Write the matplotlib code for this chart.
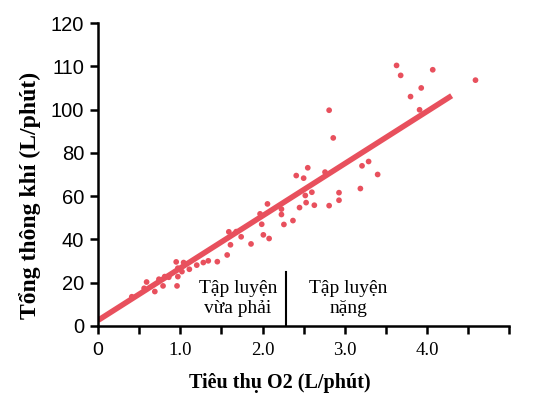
import matplotlib
matplotlib.use("Agg")
import matplotlib.pyplot as plt
import numpy as np

# O2 consumption (L/min) vs total ventilation (L/min)
o2 = [0.41, 0.56, 0.59, 0.69, 0.74, 0.81, 0.79, 0.86, 0.96, 0.97, 0.97, 0.95,
      1.02, 1.04, 1.11, 1.20, 1.28, 1.34, 1.45, 1.57, 1.61, 1.59, 1.68, 1.74,
      1.86, 2.01, 2.08, 1.99, 1.97, 2.06, 2.23, 2.23, 2.26, 2.37, 2.45, 2.41,
      2.50, 2.55, 2.52, 2.60, 2.53, 2.63, 2.76, 2.81, 2.93, 2.93, 3.19, 3.21,
      3.29, 3.40, 2.81, 2.86, 3.91, 3.80, 3.93, 3.63, 3.68, 4.07, 4.59]
vent = [13.5, 17.4, 20.3, 15.9, 21.6, 22.8, 18.5, 22.5, 18.5, 22.8, 26.7, 29.6,
        25.1, 29.3, 26.2, 28.1, 29.3, 30.1, 29.7, 32.8, 37.5, 43.5, 43.6, 41.2,
        37.9, 42.1, 40.4, 47.0, 51.8, 56.4, 54.0, 51.5, 46.9, 48.7, 54.7, 69.5,
        68.3, 73.1, 60.3, 61.8, 57.0, 55.8, 71.1, 55.6, 61.6, 58.1, 63.5, 74.0,
        76.0, 70.0, 99.7, 86.9, 99.9, 103.0, 105.0, 110.2, 107.9, 109.2, 106.8]

fit_x = [0.0, 4.035, 4.30]
fit_y = [2.6, 100.0, 103.2]

x_ticks = [0, 0.5, 1.0, 1.5, 2.0, 2.5, 3.0, 3.5, 4.0, 4.5, 5.0]
x_ticklabels = ["0", "", "1.0", "", "2.0", "", "3.0", "", "4.0", "", ""]
y_ticks = [0, 20, 40, 60, 80, 100, 110, 120]
y_ticklabels = ["0", "20", "40", "60", "80", "100", "110", "120"]

divider_x = 2.28
divider_top = 25
zone_labels = ["Tập luyện\nvừa phải", "Tập luyện\nnặng"]
zone_x = [1.70, 3.04]

RED = "#e8505d"

def fwd(v):
    v = np.asarray(v, dtype=float)
    return np.where(v <= 100, v, 100 + 2 * (v - 100))

def inv(u):
    u = np.asarray(u, dtype=float)
    return np.where(u <= 100, u, 100 + (u - 100) / 2)

fig = plt.figure(figsize=(5.36, 3.97), dpi=100)
ax = fig.add_axes([0.183, 0.179, 0.767, 0.763])
ax.set_yscale("function", functions=(fwd, inv))

ax.plot(fit_x, fit_y, color=RED, lw=4.0, solid_capstyle="butt", zorder=2)
ax.scatter(o2, vent, s=17, color=RED, edgecolors="none", zorder=3)
ax.plot([divider_x, divider_x], [0, divider_top], color="black", lw=1.5, zorder=1)

serif = "Liberation Serif"
sans = "Liberation Sans"
for tx, lab in zip(zone_x, zone_labels):
    ax.text(tx, 12.6, lab, ha="center", va="center", family=serif,
            fontsize=14, linespacing=1.2)

ax.set_xlim(0, 5.0)
ax.set_ylim(0, 120)
ax.set_xticks(x_ticks)
ax.set_xticklabels(x_ticklabels)
ax.set_yticks(y_ticks)
ax.set_yticklabels(y_ticklabels, family=sans, fontsize=14.5)
for i, t in enumerate(ax.get_xticklabels()):
    if x_ticklabels[i] == "0":
        t.set_family(sans)
        t.set_fontsize(14)
    else:
        t.set_family(serif)
        t.set_fontsize(13.5)

for s in ["top", "right"]:
    ax.spines[s].set_visible(False)
for s in ["left", "bottom"]:
    ax.spines[s].set_linewidth(1.8)
ax.tick_params(axis="y", direction="out", length=6, width=1.8, colors="black", pad=4)
ax.tick_params(axis="x", direction="out", length=6, width=1.8, colors="black", pad=5.5)
ax.spines["left"].set_bounds(0, 120)

ax.set_xlabel("Tiêu thụ O2 (L/phút)", family=serif, fontweight="bold",
              fontsize=14.5, va="center")
ax.xaxis.set_label_coords(0.443, -0.188)
ax.set_ylabel("Tổng thông khí (L/phút)", family=serif, fontweight="bold",
              fontsize=17, va="center")
ax.yaxis.set_label_coords(-0.165, 0.43)

fig.savefig("out.png", dpi=100)
